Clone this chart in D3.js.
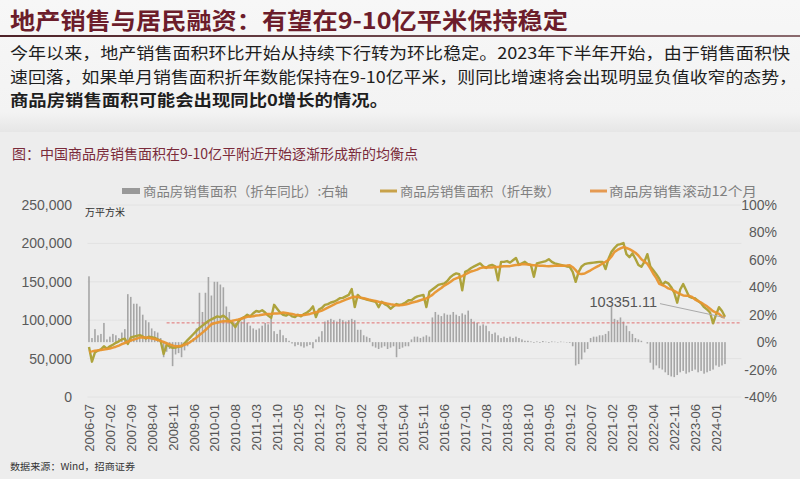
<!DOCTYPE html>
<html><head><meta charset="utf-8">
<script src="https://cdn.jsdelivr.net/npm/d3@7"></script>
<style>
html,body{margin:0;padding:0;background:#f4f4f4;}
svg{display:block;}
</style></head><body>
<svg id="c" width="800" height="479"></svg>
<script>
// ---------- DATA ----------
const startMonth = "2006-07";
// 商品房销售滚动12个月 (万平方米)
const rolling12 = [
  58800, 59400, 60100, 60700, 61300, 61857,
  62500, 63200, 64300, 65500, 67000, 68800, 70300, 72000, 73600, 74700, 76000, 77355,
  77500, 77400, 77000, 76300, 75500, 74300, 73000, 71600, 70000, 68600, 67200, 65970,
  66000, 66800, 68000, 69600, 71800, 74600, 77500, 80600, 83800, 87200, 91000, 94755,
  96000, 97000, 97900, 98800, 98600, 98700, 99300, 100100, 100900, 101900, 103200, 104349,
  104800, 105200, 106000, 106500, 107200, 107800, 108000, 108200, 108600, 108800, 109200, 109946,
  109300, 108700, 108200, 107200, 106600, 106400, 106900, 107500, 108200, 109300, 110300, 111304,
  112500, 114400, 116500, 118400, 120200, 122400, 123600, 125100, 126800, 128300, 129700, 130551,
  130200, 129400, 128500, 127500, 126500, 125800, 125000, 124000, 123100, 122300, 121500, 120649,
  120200, 119500, 119300, 119700, 120400, 121500, 122700, 123600, 124700, 126000, 127200, 128495,
  130500, 133000, 136500, 139300, 142000, 145100, 147200, 149800, 152800, 154500, 155900, 157349,
  159500, 161500, 163500, 164600, 165800, 167800, 168500, 169000, 168500, 168700, 169200, 169408,
  170000, 170400, 170200, 170400, 171300, 171800, 172300, 172900, 172700, 172400, 172000, 171654,
  171300, 170900, 170800, 170500, 170300, 170600, 170800, 170900, 171100, 171000, 171200, 171558,
  169000, 165200, 160500, 160200, 160800, 163000, 165000, 167300, 169400, 171500, 173800, 176086,
  178500, 183000, 189000, 191500, 193500, 195300, 194000, 192500, 190300, 187800, 184200, 179433,
  176500, 173500, 167500, 160500, 154800, 147300, 145700, 143900, 141500, 140300, 138300, 135837,
  134000, 132300, 131900, 131700, 130300, 126800, 125000, 123000, 120500, 118000, 114800, 111735,
  110000, 108200, 104500, 103351.11
];
// 商品房销售面积（折年数）(万平方米)
const annualized = [
  65000, 46000, 58000, 60500, 62000, 66000,
  63000, 66000, 68000, 70500, 72500, 75000, 76000, 69000, 77500, 78500, 79500, 80500,
  79000, 76000, 78500, 78000, 77000, 75000, 73000, 56000, 68000, 66000, 64000, 64500,
  65500, 66000, 70000, 74000, 78000, 82000, 86000, 90000, 93000, 96000, 99000, 101000,
  103000, 105000, 104000, 106000, 103000, 99000, 96000, 91000, 98000, 102000, 104000, 107000,
  105000, 109000, 112000, 111000, 113000, 110000, 106000, 103000, 120000, 115000, 110000, 107000,
  106000, 108000, 105000, 104000, 107000, 105000, 108000, 110000, 113000, 118000, 104000, 114000,
  116000, 120000, 121000, 123000, 124000, 126000, 128500, 129000, 131000, 133000, 140500, 117000,
  133000, 129000, 128000, 127000, 126000, 125000, 124000, 117000, 124000, 121000, 119000, 115000,
  118000, 121000, 120000, 121000, 123000, 126000, 126000, 129000, 131000, 132000, 133000, 117000,
  137000, 140000, 143000, 146000, 147000, 148000, 151000, 156000, 159000, 161000, 160000, 139000,
  163000, 165000, 168000, 170000, 172000, 174000, 170000, 168000, 171000, 172000, 170000, 152000,
  176000, 176000, 177000, 175000, 178000, 181000, 172000, 174000, 176000, 173000, 172000, 156500,
  174000, 175000, 176000, 177000, 179500, 176000, 174000, 173000, 172000, 171000, 170000, 169500,
  163000, 150000, 163000, 170000, 173000, 174000, 174500, 175000, 175500, 176000, 176000, 166500,
  180000, 189000, 194000, 198000, 199000, 200500, 186000, 182000, 187000, 180000, 172000, 169500,
  176000, 186000, 170000, 165000, 160000, 154000, 146000, 150000, 148000, 143000, 136000, 122800,
  140000, 147000, 139000, 130600, 129000, 128500, 125000, 122000, 117000, 114000, 110000, 96000,
  107000, 117000, 112000, 104500
];
// 商品房销售面积（折年同比）(%) 右轴
const yoy = [
  48, 3, 9.5, 5, 6, 14,
  2, 4, 6, 5, 3, 7, 9.5, 35, 33, 28, 28, 26,
  20, 16, 14.5, 10, 8, 7, 3, -11, -7, -5, -17.5, -9,
  -8, -11, -6, -3, 1, 3, 10, 36, 22, 36, 47.5, 34,
  44, 44, 42, 40, 26, 22, 15, 14, 16, 15, 17, 14,
  12, 10, 9, 10, 12, 14, 13, 17, 8, 6, 9, 5,
  3, 1, -1, -3, -2, -3, -4, -3, -2, -4.5, 2, 4,
  8, 15, 16, 17, 16, 15, 17, 16, 15, 16, 17, 16,
  9, 9, 5, 4, 3, -3, -4, -5, -4, -3, -5, -4,
  -3, -11, -5, -4, -3, -3, 2, 4, 4, 3, 4, 5,
  4, 18, 22, 20, 19, 21, 20, 20, 22, 20, 19, 21,
  20, 23, 17, 15, 14, 12, 13, 12, 8, 6, 7, 5,
  3, 4, 3, 4, 3, 4, 3, 2, 1, 1, 0.5, -0.5,
  0.5, -0.5, 0.8, 0.3, -0.5, 0.5, 0.3, -0.3, 0.4, 0.2, -0.3, -0.5,
  -3, -17, -16, -12.6, -7.5, -5, 3, 4, 4, 5, 5, 6,
  8, 26, 17, 16, 18, 15, 12, 8, 6, 3, 2, 1,
  0, -1, -15, -20, -17, -19, -20, -22, -24, -25, -25.5, -24,
  -22, -21, -23, -22, -21, -20, -22, -21, -23, -22, -21, -20,
  -17, -18, -17, -16
];
const leftTicks = [0, 50000, 100000, 150000, 200000, 250000];
const rightTicks = [-40, -20, 0, 20, 40, 60, 80, 100];
const xTickStep = 7;
const refLineValue = 96500;      // 9-10亿平米 参考线
const refLineStart = "2008-09";
const endLabel = "103351.11";

const titleText = "地产销售与居民融资：有望在9-10亿平米保持稳定";
const bodyLines = [
  "今年以来，地产销售面积环比开始从持续下行转为环比稳定。2023年下半年开始，由于销售面积快",
  "速回落，如果单月销售面积折年数能保持在9-10亿平米，则同比增速将会出现明显负值收窄的态势，",
  "商品房销售面积可能会出现同比0增长的情况。"
];
const chartTitle = "图：中国商品房销售面积在9-10亿平附近开始逐渐形成新的均衡点";
const legendNames = ["商品房销售面积（折年同比）:右轴", "商品房销售面积（折年数）", "商品房销售滚动12个月"];
const unitText = "万平方米";
const sourceText = "数据来源：Wind，招商证券";

// ---------- CHART ----------
const parseM = d3.timeParse("%Y-%m"), fmtM = d3.timeFormat("%Y-%m");
const months = d3.range(rolling12.length).map(i => fmtM(d3.timeMonth.offset(parseM(startMonth), i)));
const xTickLabels = months.filter((d, i) => i % xTickStep === 0);

const CJK = "'Noto Sans CJK SC','Noto Sans',sans-serif";
const NUM = "'Liberation Sans',Arial,sans-serif";
const svg = d3.select("#c");

// backgrounds
const defs = svg.append("defs");
const g1 = defs.append("linearGradient").attr("id", "rule");
g1.append("stop").attr("offset", "0%").attr("stop-color", "#4e2228");
g1.append("stop").attr("offset", "100%").attr("stop-color", "#8a6a6e");
const g2 = defs.append("linearGradient").attr("id", "bg").attr("x1", 0).attr("y1", 0).attr("x2", 0).attr("y2", 1);
g2.append("stop").attr("offset", "0%").attr("stop-color", "#f7f7f7");
g2.append("stop").attr("offset", "85%").attr("stop-color", "#f3f3f3");
g2.append("stop").attr("offset", "100%").attr("stop-color", "#e6e6e6");
svg.append("rect").attr("width", 800).attr("height", 132).attr("fill", "url(#bg)");
svg.append("rect").attr("y", 132).attr("width", 800).attr("height", 347).attr("fill", "#ededed");

// header
svg.append("text").attr("x", 10).attr("y", 29).attr("font-family", CJK).attr("font-size", 23)
  .attr("font-weight", "bold").attr("fill", "#6c1d2b").attr("textLength", 558).attr("lengthAdjust", "spacingAndGlyphs")
  .text(titleText);
svg.append("rect").attr("x", 0).attr("y", 35).attr("width", 800).attr("height", 2).attr("fill", "url(#rule)");
const bodyW = [780, 787, 378];
const bodyY = [59, 83, 106];
bodyLines.forEach((t, i) => {
  svg.append("text").attr("x", 10).attr("y", bodyY[i]).attr("font-family", CJK).attr("font-size", 16)
    .attr("font-weight", i === 2 ? "bold" : "normal").attr("fill", "#1e1e1e")
    .attr("textLength", bodyW[i]).attr("lengthAdjust", "spacingAndGlyphs").text(t);
});
svg.append("text").attr("x", 12).attr("y", 159).attr("font-family", CJK).attr("font-size", 14)
  .attr("fill", "#7a2a3a").attr("textLength", 406).attr("lengthAdjust", "spacingAndGlyphs").text(chartTitle);

// scales
const x = d3.scaleLinear().domain([-0.5, 218.5]).range([87.5, 741.4]);
const yL = d3.scaleLinear().domain([0, 250000]).range([397, 205]);
const yR = d3.scaleLinear().domain([-40, 100]).range([397, 205]);

// gridlines
svg.append("g").selectAll("line").data(leftTicks).join("line")
  .attr("x1", x.range()[0]).attr("x2", x.range()[1])
  .attr("y1", d => yL(d)).attr("y2", d => yL(d))
  .attr("stroke", "#e2e2e2").attr("stroke-width", 1);

// left axis
const axL = svg.append("g").attr("transform", "translate(72,0)")
  .call(d3.axisLeft(yL).tickValues(leftTicks).tickSize(0).tickPadding(0).tickFormat(d3.format(",")));
axL.select(".domain").remove();
axL.selectAll("text").attr("font-family", NUM).attr("font-size", 14).attr("fill", "#5a5a5a");

// right axis
const axR = svg.append("g").attr("transform", "translate(777,0)")
  .call(d3.axisLeft(yR).tickValues(rightTicks).tickSize(0).tickPadding(0).tickFormat(d => d + "%"));
axR.select(".domain").remove();
axR.selectAll("text").attr("font-family", NUM).attr("font-size", 14).attr("fill", "#5a5a5a");

// x axis labels
const axX = svg.append("g").attr("transform", "translate(0,404)")
  .call(d3.axisBottom(x).tickValues(d3.range(0, months.length, xTickStep)).tickSize(0).tickPadding(0)
    .tickFormat(i => months[i]));
axX.select(".domain").remove();
axX.selectAll("text").attr("font-family", NUM).attr("font-size", 13).attr("fill", "#555")
  .attr("text-anchor", "end").attr("transform", "rotate(-90)").attr("x", 0).attr("y", 0).attr("dy", "0.35em");

// unit
svg.append("text").attr("x", 85).attr("y", 216).attr("font-family", CJK).attr("font-size", 10)
  .attr("fill", "#333").text(unitText);

// bars
svg.append("g").selectAll("rect").data(yoy).join("rect")
  .attr("x", (d, i) => x(i) - 0.8).attr("width", 1.6)
  .attr("y", d => Math.min(yR(d), yR(0))).attr("height", d => Math.abs(yR(d) - yR(0)))
  .attr("fill", "#a6a6a6");

// reference dashed line
svg.append("line").attr("x1", x(months.indexOf(refLineStart))).attr("x2", x.range()[1])
  .attr("y1", yL(refLineValue)).attr("y2", yL(refLineValue))
  .attr("stroke", "#e07070").attr("stroke-width", 1).attr("stroke-dasharray", "3,2");

// lines
const line = d3.line().x((d, i) => x(i)).y(d => yL(d)).curve(d3.curveLinear);
svg.append("path").datum(annualized).attr("d", line).attr("fill", "none")
  .attr("stroke", "#ada33c").attr("stroke-width", 2.4).attr("stroke-linejoin", "round");
svg.append("path").datum(rolling12).attr("d", line).attr("fill", "none")
  .attr("stroke", "#e8952f").attr("stroke-width", 2.5).attr("stroke-linejoin", "round").attr("opacity", 0.95);

// end label
const li = rolling12.length - 1;
const ex = x(li), ey = yL(rolling12[li]);
svg.append("line").attr("x1", ex - 65).attr("y1", ey - 14).attr("x2", ex).attr("y2", ey)
  .attr("stroke", "#aaa").attr("stroke-width", 1);
svg.append("text").attr("x", ex - 68).attr("y", ey - 10.5).attr("text-anchor", "end")
  .attr("font-family", NUM).attr("font-size", 14.5).attr("fill", "#555").text(endLabel);

// legend
const lg = svg.append("g").attr("font-family", CJK).attr("font-size", 13).attr("fill", "#808080");
lg.append("rect").attr("x", 122).attr("y", 188).attr("width", 18).attr("height", 6).attr("fill", "#999");
lg.append("text").attr("x", 143).attr("y", 196).attr("textLength", 205).attr("lengthAdjust", "spacingAndGlyphs").text(legendNames[0]);
lg.append("line").attr("x1", 380).attr("x2", 397).attr("y1", 191).attr("y2", 191).attr("stroke", "#c8a24a").attr("stroke-width", 3);
lg.append("text").attr("x", 400).attr("y", 196).attr("textLength", 160).attr("lengthAdjust", "spacingAndGlyphs").text(legendNames[1]);
lg.append("line").attr("x1", 590).attr("x2", 607).attr("y1", 191).attr("y2", 191).attr("stroke", "#e59a52").attr("stroke-width", 3);
lg.append("text").attr("x", 609).attr("y", 196).attr("textLength", 148).attr("lengthAdjust", "spacingAndGlyphs").text(legendNames[2]);

// source
svg.append("text").attr("x", 10).attr("y", 470).attr("font-family", CJK).attr("font-size", 9.5)
  .attr("fill", "#333").attr("textLength", 125).attr("lengthAdjust", "spacingAndGlyphs").text(sourceText);
</script>
</body></html>
